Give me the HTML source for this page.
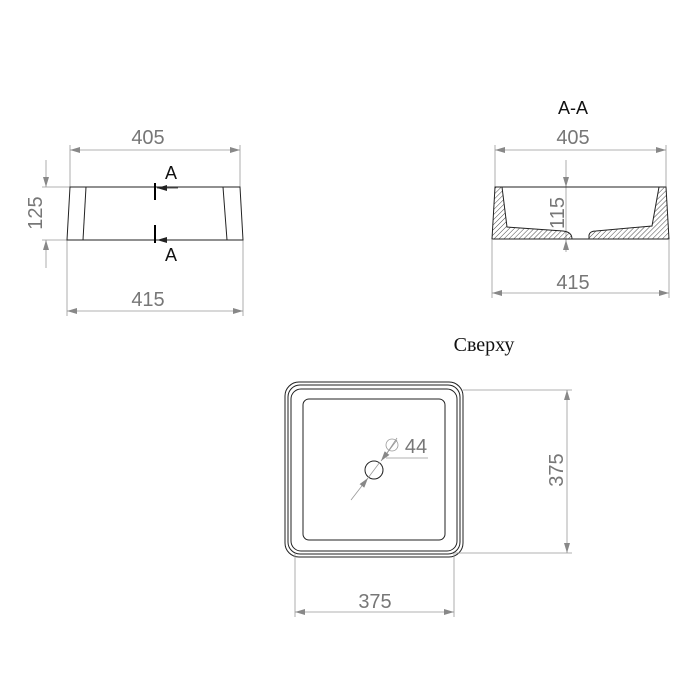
<!DOCTYPE html>
<html><head><meta charset="utf-8"><style>html,body{margin:0;padding:0;background:#fff}svg{display:block}</style></head>
<body>
<svg width="700" height="700" viewBox="0 0 700 700" xmlns="http://www.w3.org/2000/svg">
<defs>
<marker id="ar" viewBox="0 0 10 6" refX="10" refY="3" markerWidth="10" markerHeight="6" orient="auto-start-reverse" markerUnits="userSpaceOnUse"><path d="M0,0 L10,3 L0,6 Z" fill="#888"/></marker>
<marker id="ak" viewBox="0 0 10 6" refX="10" refY="3" markerWidth="10" markerHeight="6" orient="auto" markerUnits="userSpaceOnUse"><path d="M0,0 L10,3 L0,6 Z" fill="#222"/></marker>
<pattern id="h" width="3.5" height="3.5" patternUnits="userSpaceOnUse" patternTransform="rotate(45)"><line x1="0" y1="0" x2="0" y2="3.5" stroke="#333" stroke-width="0.9"/></pattern>
</defs>
<g font-family="Liberation Sans, sans-serif" fill="#777" font-size="20">
<!-- left view -->
<g stroke="#999" stroke-width="0.8" fill="none">
<line x1="70" y1="187" x2="70" y2="145"/><line x1="240" y1="187" x2="240" y2="145"/>
<line x1="70" y1="150" x2="240" y2="150" marker-start="url(#ar)" marker-end="url(#ar)"/>
<line x1="67" y1="240" x2="67" y2="316"/><line x1="243" y1="240" x2="243" y2="316"/>
<line x1="67" y1="311" x2="243" y2="311" marker-start="url(#ar)" marker-end="url(#ar)"/>
<line x1="42" y1="187" x2="70" y2="187"/><line x1="42" y1="240" x2="67" y2="240"/>
<line x1="46" y1="160" x2="46" y2="187" marker-end="url(#ar)"/>
<line x1="46" y1="268" x2="46" y2="240" marker-end="url(#ar)"/>
</g>
<text x="148" y="144" text-anchor="middle">405</text>
<text x="148" y="306" text-anchor="middle">415</text>
<text transform="translate(42,213) rotate(-90)" text-anchor="middle">125</text>
<g stroke="#222" stroke-width="1" fill="none">
<path d="M70,187 L240,187 L243,240 L67,240 Z"/>
<line x1="86" y1="187" x2="83" y2="240"/><line x1="223" y1="187" x2="227" y2="240"/>
</g>
<g stroke="#000" stroke-width="2"><line x1="155" y1="183" x2="155" y2="200"/><line x1="155" y1="225" x2="155" y2="243"/></g>
<g stroke="#222" stroke-width="0.8"><line x1="178" y1="188" x2="157" y2="188" marker-end="url(#ak)"/><line x1="178" y1="240" x2="157" y2="240" marker-end="url(#ak)"/></g>
<text x="171" y="179" text-anchor="middle" fill="#111" font-size="18">A</text>
<text x="171" y="261" text-anchor="middle" fill="#111" font-size="18">A</text>
<!-- right view -->
<text x="573" y="114" text-anchor="middle" fill="#111" font-size="18">A-A</text>
<g stroke="#999" stroke-width="0.8" fill="none">
<line x1="495" y1="187" x2="495" y2="145"/><line x1="666" y1="187" x2="666" y2="145"/>
<line x1="495" y1="150" x2="666" y2="150" marker-start="url(#ar)" marker-end="url(#ar)"/>
<line x1="492" y1="240" x2="492" y2="298"/><line x1="669" y1="240" x2="669" y2="298"/>
<line x1="492" y1="293" x2="669" y2="293" marker-start="url(#ar)" marker-end="url(#ar)"/>
<line x1="566" y1="160" x2="566" y2="187" marker-end="url(#ar)"/>
<line x1="566" y1="252" x2="566" y2="240" marker-end="url(#ar)"/>
<line x1="566" y1="187" x2="566" y2="240"/>
</g>
<text x="573" y="144" text-anchor="middle">405</text>
<text x="573" y="289" text-anchor="middle">415</text>
<text transform="translate(564,213) rotate(-90)" text-anchor="middle">115</text>
<g stroke="#222" stroke-width="1" fill="url(#h)">
<path d="M495,187 L502,187 L507,227 L563,231 Q572,232 572,239 L492,239 Z"/>
<path d="M589,239 L589,235 Q590,231 596,231 L652,226 L659,187 L666,187 L669,239 Z"/>
</g>
<line x1="495" y1="187" x2="666" y2="187" stroke="#222" stroke-width="1"/>
<line x1="572" y1="239" x2="589" y2="239" stroke="#222" stroke-width="1"/>
<!-- top view -->
<text x="484" y="351" text-anchor="middle" fill="#111" font-family="Liberation Serif, serif" font-size="20">Сверху</text>
<g stroke="#222" stroke-width="1" fill="none">
<rect x="285" y="382" width="178" height="175" rx="14"/>
<rect x="288" y="385" width="172" height="169" rx="12"/>
<rect x="291" y="389" width="166" height="162" rx="10"/>
<rect x="303" y="399" width="142" height="141" rx="6"/>
<circle cx="374" cy="470" r="9"/>
</g>
<g stroke="#999" stroke-width="0.8" fill="none">
<line x1="463" y1="390" x2="572" y2="390"/><line x1="455" y1="553" x2="572" y2="553"/>
<line x1="567" y1="390" x2="567" y2="553" marker-start="url(#ar)" marker-end="url(#ar)"/>
<line x1="295" y1="553" x2="295" y2="617"/><line x1="454" y1="553" x2="454" y2="617"/>
<line x1="295" y1="612" x2="454" y2="612" marker-start="url(#ar)" marker-end="url(#ar)"/>
<line x1="351" y1="500" x2="368" y2="478" marker-end="url(#ar)"/>
<line x1="368" y1="478" x2="380" y2="462"/>
<line x1="397" y1="440" x2="381" y2="461" marker-end="url(#ar)"/>
<line x1="386" y1="458" x2="428" y2="458"/>
<circle cx="392" cy="445" r="6"/><line x1="387" y1="453" x2="397" y2="438"/>
</g>
<text x="416" y="453" text-anchor="middle">44</text>
<text x="375" y="608" text-anchor="middle">375</text>
<text transform="translate(563,470) rotate(-90)" text-anchor="middle">375</text>
</g>
</svg>
</body></html>
